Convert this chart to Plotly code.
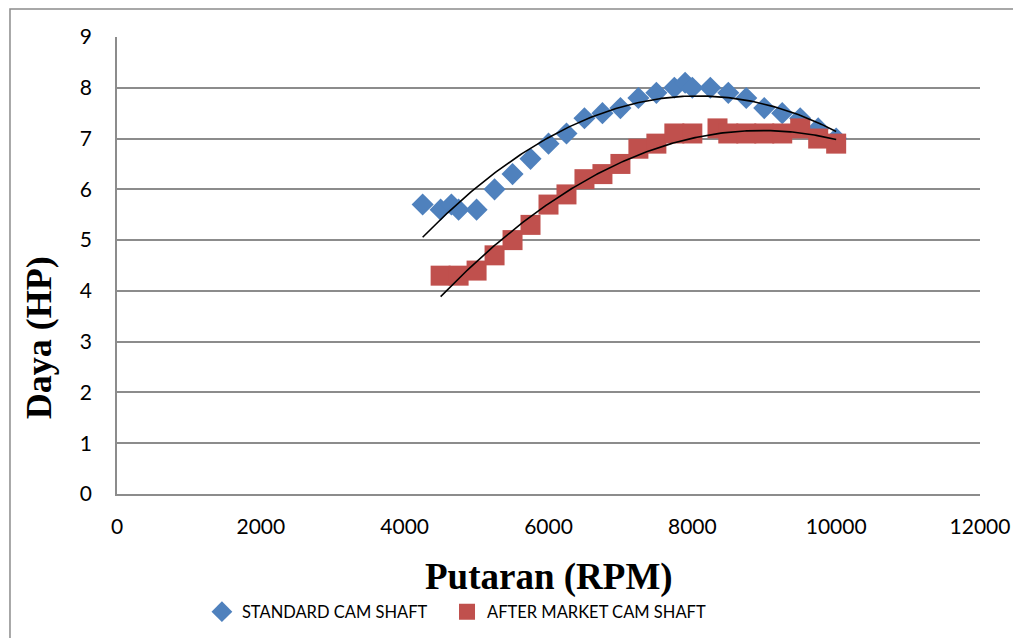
import numpy as np
import plotly.graph_objects as go

# ---- data ----
std_rpm = [4250, 4500, 4650, 4750, 5000, 5250, 5500, 5750, 6000, 6250, 6500, 6750, 7000,
           7250, 7500, 7750, 7900, 8000, 8250, 8500, 8750, 9000, 9250, 9500, 9750, 10000]
std_hp = [5.7, 5.6, 5.7, 5.6, 5.6, 6.0, 6.3, 6.6, 6.9, 7.1, 7.4, 7.5, 7.6,
          7.8, 7.9, 8.0, 8.1, 8.0, 8.0, 7.9, 7.8, 7.6, 7.5, 7.4, 7.2, 7.0]

aft_rpm = [4500, 4750, 5000, 5250, 5500, 5750, 6000, 6250, 6500, 6750, 7000, 7250,
           7500, 7750, 8000, 8350, 8500, 8750, 9000, 9250, 9500, 9750, 10000]
aft_hp = [4.3, 4.3, 4.4, 4.7, 5.0, 5.3, 5.7, 5.9, 6.2, 6.3, 6.5, 6.8,
          6.9, 7.1, 7.1, 7.2, 7.1, 7.1, 7.1, 7.1, 7.2, 7.0, 6.9]

x_ticks = [0, 2000, 4000, 6000, 8000, 10000, 12000]
y_ticks = [0, 1, 2, 3, 4, 5, 6, 7, 8, 9]

series_names = ["STANDARD CAM SHAFT", "AFTER MARKET CAM SHAFT"]
x_title = "Putaran (RPM)"
y_title = "Daya (HP)"


def poly_trend(xs, ys):
    c = np.polyfit(xs, ys, 2)
    xx = np.linspace(min(xs), max(xs), 200)
    return xx, np.polyval(c, xx)


BLUE = "#4F81BD"
RED = "#C0504D"
GRID = "#8C8C8C"

fig = go.Figure()
fig.add_trace(go.Scatter(x=std_rpm, y=std_hp, mode="markers", name=series_names[0],
                         legend="legend",
                         marker=dict(symbol="diamond", size=17, color=BLUE)))
fig.add_trace(go.Scatter(x=aft_rpm, y=aft_hp, mode="markers", name=series_names[1],
                         legend="legend2",
                         marker=dict(symbol="square", size=20, color=RED)))
tx, ty = poly_trend(std_rpm, std_hp)
fig.add_trace(go.Scatter(x=tx, y=ty, mode="lines", showlegend=False,
                         line=dict(color="black", width=1.6), hoverinfo="skip"))
tx, ty = poly_trend(aft_rpm, aft_hp)
fig.add_trace(go.Scatter(x=tx, y=ty, mode="lines", showlegend=False,
                         line=dict(color="black", width=1.6), hoverinfo="skip"))

tick_font = dict(family="Lato, Calibri, sans-serif", size=21, color="black")
legend_font = dict(family="Lato, Calibri, sans-serif", size=16.5, color="black")

# page body has an 8px margin, so the figure is 8px smaller and margins shifted
LEG_Y = 1 - (612 - 8) / 630
fig.update_layout(
    width=1013, height=630,
    margin=dict(l=109, r=41, t=29, b=144, autoexpand=False),
    paper_bgcolor="white", plot_bgcolor="white",
    showlegend=True,
    legend=dict(orientation="h", x=0.0984, xanchor="left", y=LEG_Y, yref="container",
                yanchor="middle", font=legend_font, itemwidth=30, bgcolor="rgba(0,0,0,0)"),
    legend2=dict(orientation="h", x=0.3824, xanchor="left", y=LEG_Y, yref="container",
                 yanchor="middle", font=legend_font, itemwidth=30, bgcolor="rgba(0,0,0,0)"),
    xaxis=dict(range=[0, 12000], tickvals=x_ticks, ticktext=[str(v) for v in x_ticks],
               showgrid=False, zeroline=False, showline=True, linecolor=GRID, linewidth=1.5,
               ticks="", tickfont=tick_font, ticklabelstandoff=13),
    yaxis=dict(range=[0, 9], tickvals=y_ticks, ticktext=[str(v) for v in y_ticks],
               showgrid=True, gridcolor=GRID, gridwidth=1.5, zeroline=False,
               showline=True, linecolor=GRID, linewidth=1.5,
               ticks="", tickfont=tick_font, ticklabelstandoff=19),
    annotations=[
        dict(text="<b>" + x_title + "</b>", xref="paper", yref="paper", x=0.5, y=0,
             xanchor="center", yanchor="middle", yshift=-83, showarrow=False,
             font=dict(family="Liberation Serif, Times New Roman, serif", size=37, color="black")),
        dict(text="<b>" + y_title + "</b>", xref="paper", yref="paper", x=0, y=0.341,
             xanchor="center", yanchor="middle", xshift=-78, textangle=-90, showarrow=False,
             font=dict(family="Liberation Serif, Times New Roman, serif", size=36, color="black")),
    ],
    shapes=[
        dict(type="rect", xref="paper", yref="paper", x0=-0.124, y0=-0.6, x1=1.2, y1=1.061,
             line=dict(color="#8C8C8C", width=1.5), fillcolor="rgba(0,0,0,0)", layer="below"),
    ],
)

fig.write_html("out.html")
